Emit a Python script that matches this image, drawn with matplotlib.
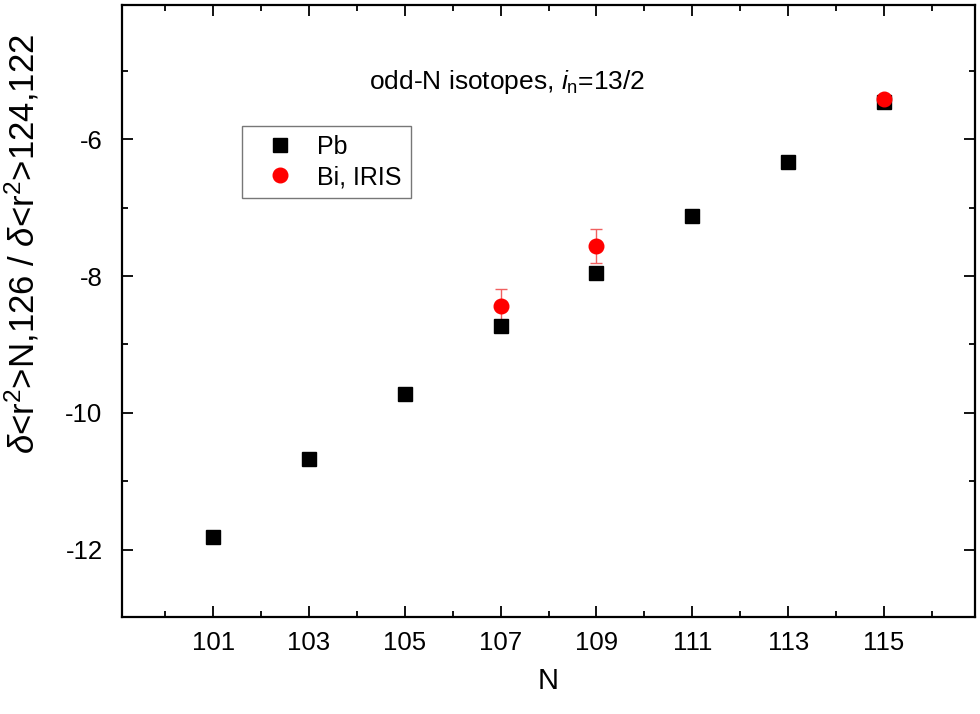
import numpy as np
import matplotlib
matplotlib.use("Agg")
from matplotlib import pyplot as plt
from matplotlib.ticker import MultipleLocator

plt.rcParams['font.family'] = ['Liberation Sans', 'DejaVu Sans']
plt.rcParams['mathtext.fontset'] = 'custom'
plt.rcParams['mathtext.rm'] = 'Liberation Sans'
plt.rcParams['mathtext.it'] = 'Liberation Sans:italic'
plt.rcParams['axes.unicode_minus'] = False

# Pb odd-N isotopes
pb_N = [101, 103, 105, 107, 109, 111, 113, 115]
pb_ratio = [-11.81, -10.67, -9.73, -8.73, -7.96, -7.13, -6.33, -5.46]

# Bi, IRIS
bi_N = [107, 109, 115]
bi_ratio = [-8.44, -7.56, -5.41]
bi_err = [0.25, 0.25, 0.05]

fig = plt.figure(figsize=(9.8, 7.14), dpi=100)
ax = fig.add_axes([0.1245, 0.136, 0.8705, 0.857])

ax.errorbar(bi_N, bi_ratio, yerr=bi_err, fmt='none', ecolor='#f06060',
            elinewidth=1.0, capsize=4.3, capthick=1.0, zorder=2)
ax.plot(pb_N, pb_ratio, 's', color='black', markersize=9.5, label='Pb', zorder=3)
ax.plot(bi_N, bi_ratio, 'o', color='red', markersize=10.5, label='Bi, IRIS', zorder=4)

ax.set_xlim(99.1, 116.9)
ax.set_ylim(-12.98, -4.04)
ax.set_xticks(np.arange(101, 117, 2))
ax.set_xticks(np.arange(100, 117, 2), minor=True)
ax.yaxis.set_major_locator(MultipleLocator(2))
ax.yaxis.set_minor_locator(MultipleLocator(1))

ax.tick_params(which='both', direction='in', top=True, right=True,
               width=1.3, labelsize=18.5)
ax.tick_params(which='major', length=8)
ax.tick_params(which='minor', length=4.5)
ax.tick_params(axis='x', pad=10)
ax.tick_params(axis='y', pad=14)
for s in ax.spines.values():
    s.set_linewidth(1.6)

ax.set_xlabel('N', fontsize=21, labelpad=9)
ax.set_ylabel(r'$\delta$<r$^2$>N,126 / $\delta$<r$^2$>124,122', fontsize=25)
ax.yaxis.set_label_coords(-0.095, 0.61)

ax.text(0.452, 0.874, r'odd-N isotopes, $i_\mathrm{n}$=13/2', transform=ax.transAxes,
        ha='center', va='center', fontsize=19)

leg = ax.legend(loc='upper left', bbox_to_anchor=(0.1407, 0.802), fontsize=18,
                frameon=True, fancybox=False, edgecolor='#555555',
                handletextpad=0.36, borderpad=0.35, labelspacing=0.25,
                handlelength=2.3, borderaxespad=0)
leg.get_frame().set_linewidth(1.0)

fig.savefig('out.png', dpi=100)
